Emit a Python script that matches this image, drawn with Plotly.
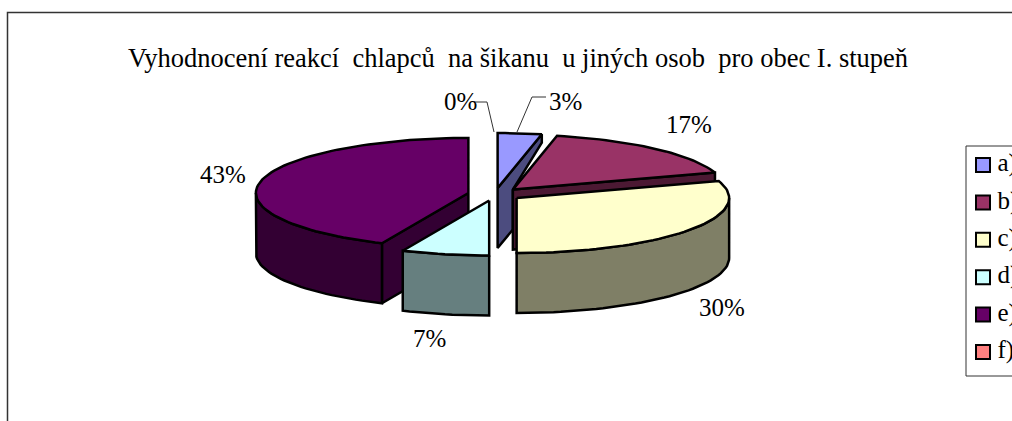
import math
import plotly.graph_objects as go

# Data
categories = ["a)", "b)", "c)", "d)", "e)", "f)"]
counts = [1, 5, 9, 2, 13, 0]
top_colors = ["#9999FF", "#993366", "#FFFFCC", "#CCFFFF", "#660066", "#FF8080"]
wall_colors = ["#4C4C7F", "#4C1933", "#7F7F66", "#667F7F", "#330033", "#7F4040"]
title = "Vyhodnocení reakcí  chlapců  na šikanu  u jiných osob  pro obec I. stupeň"

W, H = 1012, 421
CX, CY = 494.8, 194.3     # pie centre
RX, RY = 212.5, 55        # radii of the projected ellipse
EX, EY = 27, 6.3          # explosion offset
DEPTH = 60
LW = 2.5

total = sum(counts)
bounds = []
acc = 0
for c in counts:
    bounds.append((acc / total * 360, (acc + c) / total * 360))
    acc += c


def apex(i):
    a0, a1 = bounds[i]
    m = math.radians((a0 + a1) / 2)
    return CX + EX * math.sin(m), CY - EY * math.cos(m)


def rim(i, deg, dz=0):
    ax, ay = apex(i)
    t = math.radians(deg)
    return ax + RX * math.sin(t), ay - RY * math.cos(t) + dz


def arc(i, d0, d1, dz=0):
    n = max(2, int(abs(d1 - d0) / 2))
    return [rim(i, d0 + (d1 - d0) * k / n, dz) for k in range(n + 1)]


fig = go.Figure()


def poly(pts, color, name):
    xs = [p[0] for p in pts] + [pts[0][0]]
    ys = [p[1] for p in pts] + [pts[0][1]]
    fig.add_trace(go.Scatter(x=xs, y=ys, mode="lines", fill="toself", fillcolor=color,
                             line=dict(color="black", width=LW), hoverinfo="skip",
                             showlegend=False, name=name))


def top(i):
    a0, a1 = bounds[i]
    poly([apex(i)] + arc(i, a0, a1), top_colors[i], categories[i])


def outer_wall(i):
    a0, a1 = bounds[i]
    lo, hi = max(a0, 90), min(a1, 270)
    if hi > lo:
        poly(arc(i, lo, hi) + arc(i, hi, lo, DEPTH), wall_colors[i], categories[i])


def radial_wall(i, deg):
    ax, ay = apex(i)
    rx, ry = rim(i, deg)
    poly([(ax, ay), (rx, ry), (rx, ry + DEPTH), (ax, ay + DEPTH)], wall_colors[i], categories[i])


# slice e
radial_wall(4, bounds[4][0])
outer_wall(4)
top(4)
# slice d
outer_wall(3)
top(3)
# slice a: the wall stops short of the neighbouring slice's apex, as in the original
ax, ay = apex(0)
rx, ry = rim(0, bounds[0][1])
bx, by = apex(1)
t = (bx - ax) / (rx - ax)
poly([(ax, ay), (rx, ry), (rx, ry + 0.14 * DEPTH), (bx, by),
      (bx, ay + DEPTH + t * (ry - ay)), (ax, ay + DEPTH)], wall_colors[0], categories[0])
top(0)
# slice b
radial_wall(1, bounds[1][1])
top(1)
# slice c
outer_wall(2)
top(2)

# Percent labels
SERIF = "Liberation Serif"
FS = 25
label_xy = [(565, 101), (689, 124), (722, 307), (429, 338), (223, 174), (460, 101)]
labels = [f"{round(100 * c / total)}%" for c in counts]
for s, (lx, ly) in zip(labels, label_xy):
    fig.add_annotation(x=lx, y=ly, text=s, showarrow=False, xref="x", yref="y",
                       font=dict(family=SERIF, size=FS, color="black"))

# Leader lines
for pts in ([(546, 97), (532, 97), (517, 132)], [(474, 102), (487, 102), (494, 132)]):
    fig.add_trace(go.Scatter(x=[p[0] for p in pts], y=[p[1] for p in pts], mode="lines",
                             line=dict(color="#333333", width=1), hoverinfo="skip", showlegend=False))

# Legend
LEG_Y0, LEG_STEP = 165, 37.4
for i, cat in enumerate(categories):
    fig.add_trace(go.Scatter(x=[983], y=[LEG_Y0 + i * LEG_STEP], mode="markers", hoverinfo="skip",
                             marker=dict(symbol="square", size=14, color=top_colors[i],
                                         line=dict(color="black", width=2)),
                             showlegend=False, name=cat))
    fig.add_trace(go.Scatter(x=[997.5], y=[LEG_Y0 + i * LEG_STEP], mode="text", hoverinfo="skip",
                             text=[cat], textposition="middle right",
                             textfont=dict(family=SERIF, size=FS, color="black"),
                             showlegend=False, name=cat, cliponaxis=False))

# Title
fig.add_annotation(x=518, y=58, text=title, showarrow=False, xref="x", yref="y",
                   font=dict(family=SERIF, size=26.5, color="black"))

shapes = [
    dict(type="rect", x0=7.5, y0=12.5, x1=W + 20, y1=H + 20, line=dict(color="#333333", width=1.5),
         fillcolor="rgba(0,0,0,0)", layer="below"),
    dict(type="rect", x0=966, y0=146, x1=W + 20, y1=376, line=dict(color="#333333", width=1),
         fillcolor="white", layer="below"),
]

fig.update_layout(
    width=W, height=H, margin=dict(l=0, r=0, t=0, b=0),
    paper_bgcolor="white", plot_bgcolor="white", showlegend=False, shapes=shapes,
    xaxis=dict(range=[0, W], visible=False, fixedrange=True),
    yaxis=dict(range=[H, 0], visible=False, fixedrange=True),
)
fig.write_html("out.html", config=dict(displayModeBar=False),
               post_script="document.body.style.margin='0';document.body.style.overflow='hidden';")
